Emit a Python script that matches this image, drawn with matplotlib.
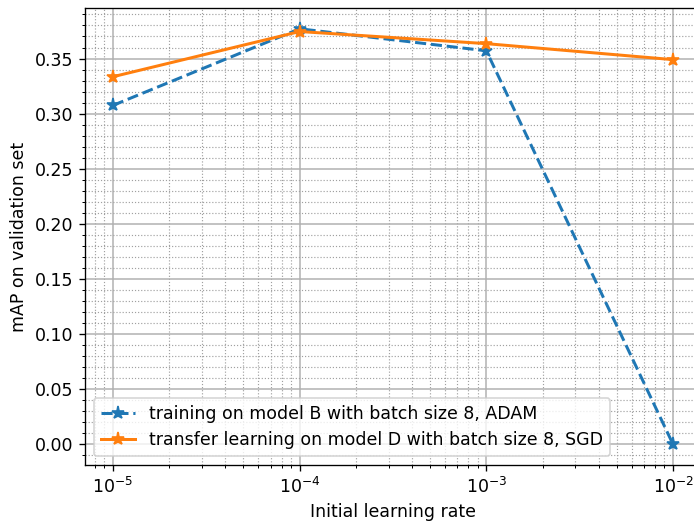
import numpy as np
import matplotlib.pyplot as plt
from matplotlib.ticker import MultipleLocator

# initial learning rates tried
learning_rates = [1e-5, 1e-4, 1e-3, 1e-2]

# mAP on the validation set for each run
map_adam_b = [0.3075, 0.377, 0.357, 0.0]
map_sgd_d = [0.3335, 0.3745, 0.3635, 0.349]

label_adam_b = "training on model B with batch size 8, ADAM"
label_sgd_d = "transfer learning on model D with batch size 8, SGD"

plt.rcParams["font.size"] = 10.4

DPI = 120
fig = plt.figure(figsize=(694 / DPI, 525 / DPI), dpi=DPI)
ax = fig.add_axes([85 / 694, 60 / 525, 616 / 694, 457 / 525])

ax.plot(learning_rates, map_adam_b, "--*", color="tab:blue",
        linewidth=1.8, markersize=8, label=label_adam_b)
ax.plot(learning_rates, map_sgd_d, "-*", color="tab:orange",
        linewidth=1.8, markersize=8, label=label_sgd_d)

ax.set_xscale("log")
ax.yaxis.set_major_locator(MultipleLocator(0.05))
ax.yaxis.set_minor_locator(MultipleLocator(0.01))

ax.grid(which="major", linestyle="-", color="#b0b0b0", linewidth=0.9)
ax.grid(which="minor", linestyle=":", color="#a0a0a0", linewidth=0.7)

ax.set_xlabel("Initial learning rate")
ax.set_ylabel("mAP on validation set")
ax.legend(loc="lower left")

fig.savefig("out.png", dpi=DPI)
